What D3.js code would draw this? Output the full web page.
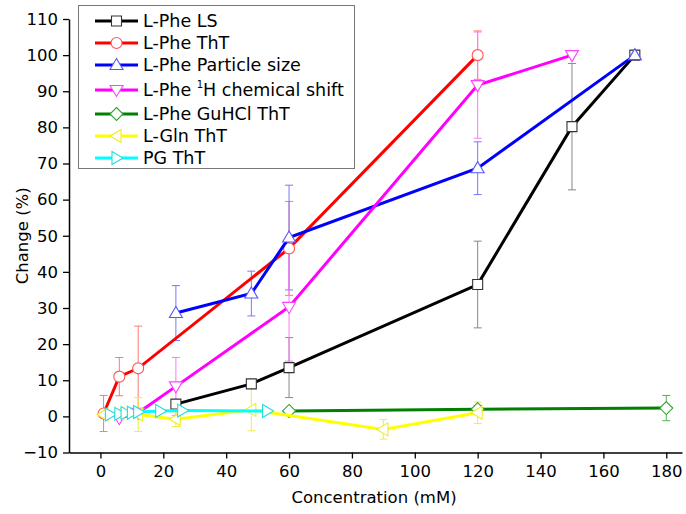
<!DOCTYPE html>
<html><head><meta charset="utf-8">
<script src="https://cdn.jsdelivr.net/npm/d3@7"></script>
<style>body{margin:0;background:#fff}svg{display:block}text{font-family:"DejaVu Sans",Verdana,sans-serif}</style>
</head><body><svg id="c" width="686" height="514"></svg>
<script>
// ---- data ----
const xLS = [24, 48, 60, 120, 150, 170];
const yLS = [3.4, 9, 13.5, 36.5, 80.2, 100];
const eLS = [1, 1.2, 8.3, 12, 17.5, 0];

const xThT = [1, 6, 12, 60, 120];
const yThT = [0.8, 11, 13.3, 46.5, 100];
const eThT = [5, 5.3, 11.7, 13, 6.7];

const xPS = [24, 48, 60, 120, 170];
const yPS = [28.6, 34, 49.5, 68.7, 100];
const ePS = [7.6, 6.2, 14.5, 7.3, 0];

const xNMR = [6, 12, 24, 60, 120, 150];
const yNMR = [-0.5, 1, 8.3, 30.3, 91.7, 100];
const eNMR = [0, 0, 8, 15, 14.7, 0];

const xGu = [60, 120, 180];
const yGu = [1.5, 2, 2.3];
const eGu = [0.5, 1, 3.5];

const xGln = [1, 6, 12, 24, 48, 90, 120];
const yGln = [0.5, 0.8, 0.5, -0.8, 1.8, -3.6, 1];
const eGln = [0, 0, 4.7, 2, 5.8, 2.7, 3];

const xPG = [3, 6, 8, 10, 12, 19, 26, 53];
const yPG = [0.5, 0.7, 0.9, 1.0, 1.2, 1.5, 1.6, 1.5];
const ePG = [0, 0, 0, 0, 0, 0, 0, 0];

const seriesNames = ["L-Phe LS", "L-Phe ThT", "L-Phe Particle size", "L-Phe 1H chemical shift", "L-Phe GuHCl ThT", "L-Gln ThT", "PG ThT"];
const xTicks = [0, 20, 40, 60, 80, 100, 120, 140, 160, 180];
const yTicks = [-10, 0, 10, 20, 30, 40, 50, 60, 70, 80, 90, 100, 110];

// ---- build ----
const series = [
  {name: seriesNames[0], xs: xLS, ys: yLS, es: eLS, line: "#000000", mark: "#333333", err: "#888888", sym: "square"},
  {name: seriesNames[1], xs: xThT, ys: yThT, es: eThT, line: "#ff0000", mark: "#ff5555", err: "#ff7777", sym: "circle"},
  {name: seriesNames[2], xs: xPS, ys: yPS, es: ePS, line: "#0000ff", mark: "#5555ff", err: "#7777ff", sym: "up"},
  {name: seriesNames[3], xs: xNMR, ys: yNMR, es: eNMR, line: "#ff00ff", mark: "#ff44ff", err: "#ff77ff", sym: "down"},
  {name: seriesNames[4], xs: xGu, ys: yGu, es: eGu, line: "#008000", mark: "#33a033", err: "#55b055", sym: "diamond"},
  {name: seriesNames[5], xs: xGln, ys: yGln, es: eGln, line: "#ffff00", mark: "#eeee22", err: "#eeee44", sym: "left"},
  {name: seriesNames[6], xs: xPG, ys: yPG, es: ePG, line: "#00ffff", mark: "#22dddd", err: "#44eeee", sym: "right"}
];

const svg = d3.select("#c");
const x = d3.scaleLinear().domain([-10, 185]).range([69, 682]);
const y = d3.scaleLinear().domain([-10, 110]).range([452.5, 19]);

const xAxis = d3.axisBottom(x).tickValues(xTicks).tickSize(6).tickSizeOuter(0).tickPadding(7);
const yAxis = d3.axisLeft(y).tickValues(yTicks).tickSize(6).tickSizeOuter(0).tickPadding(5);

const gx = svg.append("g").attr("transform", `translate(0,${y(-10)})`).call(xAxis);
const gy = svg.append("g").attr("transform", `translate(${x(-10)},0)`).call(yAxis);
[gx, gy].forEach(g => {
  g.selectAll("path.domain").attr("stroke", "#000").attr("stroke-width", 1.5);
  g.selectAll(".tick line").attr("stroke", "#000").attr("stroke-width", 1.3);
  g.selectAll(".tick text").attr("font-size", 16.5).attr("fill", "#000").attr("font-family", "DejaVu Sans, Verdana, sans-serif");
});

svg.append("text").attr("x", 374).attr("y", 503).attr("text-anchor", "middle").attr("font-size", 16.5).text("Concentration (mM)");
svg.append("text").attr("transform", `translate(28,${(19 + 452.5) / 2}) rotate(-90)`).attr("text-anchor", "middle").attr("font-size", 16.5).text("Change (%)");

function symbolPath(sym) {
  const s = 5.5;
  switch (sym) {
    case "square": return `M${-s+0.5},${-s+0.5}H${s-0.5}V${s-0.5}H${-s+0.5}Z`;
    case "circle": return d3.symbol(d3.symbolCircle, 95)();
    case "up": return `M0,${-s-1}L${s+1},${s-1}L${-s-1},${s-1}Z`;
    case "down": return `M0,${s+1}L${s+1},${-s+1}L${-s-1},${-s+1}Z`;
    case "left": return `M${-s-1},0L${s-1},${-s-1}L${s-1},${s+1}Z`;
    case "right": return `M${s+1},0L${-s+1},${-s-1}L${-s+1},${s+1}Z`;
    case "diamond": return `M0,${-s-1}L${s+1},0L0,${s+1}L${-s-1},0Z`;
  }
}

const plot = svg.append("g");
// error bars
series.forEach(sr => {
  const g = plot.append("g");
  sr.xs.forEach((xv, i) => {
    const e = sr.es[i];
    if (!e) return;
    const cx = x(xv), y1 = y(sr.ys[i] + e), y2 = y(sr.ys[i] - e);
    g.append("line").attr("x1", cx).attr("x2", cx).attr("y1", y1).attr("y2", y2).attr("stroke", sr.err).attr("stroke-width", 1);
    [y1, y2].forEach(yy => g.append("line").attr("x1", cx - 4).attr("x2", cx + 4).attr("y1", yy).attr("y2", yy).attr("stroke", sr.err).attr("stroke-width", 1));
  });
});
// lines and markers
const lineGen = d3.line().x(d => x(d[0])).y(d => y(d[1]));
series.forEach(sr => {
  const pts = sr.xs.map((xv, i) => [xv, sr.ys[i]]);
  plot.append("path").attr("d", lineGen(pts)).attr("fill", "none").attr("stroke", sr.line).attr("stroke-width", 3);
  plot.append("g").selectAll("path").data(pts).join("path")
    .attr("transform", d => `translate(${x(d[0])},${y(d[1])})`)
    .attr("d", symbolPath(sr.sym)).attr("fill", "#fff").attr("stroke", sr.mark).attr("stroke-width", 1.1);
});

// legend
const lg = svg.append("g");
lg.append("rect").attr("x", 78.5).attr("y", 5.5).attr("width", 276).attr("height", 163).attr("fill", "#fff").attr("stroke", "#777").attr("stroke-width", 1);
const rowsY = [21, 43, 65, 90, 114, 136, 158];
series.forEach((sr, i) => {
  const ry = rowsY[i];
  lg.append("line").attr("x1", 95).attr("x2", 138).attr("y1", ry).attr("y2", ry).attr("stroke", sr.line).attr("stroke-width", 3);
  lg.append("path").attr("transform", `translate(116.5,${ry})`).attr("d", symbolPath(sr.sym)).attr("fill", "#fff").attr("stroke", sr.mark).attr("stroke-width", 1.1);
  const t = lg.append("text").attr("x", 143).attr("y", ry + 6).attr("font-size", 17.5);
  if (sr.name.includes("1H")) {
    t.append("tspan").text("L-Phe ");
    t.append("tspan").attr("font-size", 10).attr("dy", -8).text("1");
    t.append("tspan").attr("dy", 8).text("H chemical shift");
  } else {
    t.text(sr.name);
  }
});
</script></body></html>
